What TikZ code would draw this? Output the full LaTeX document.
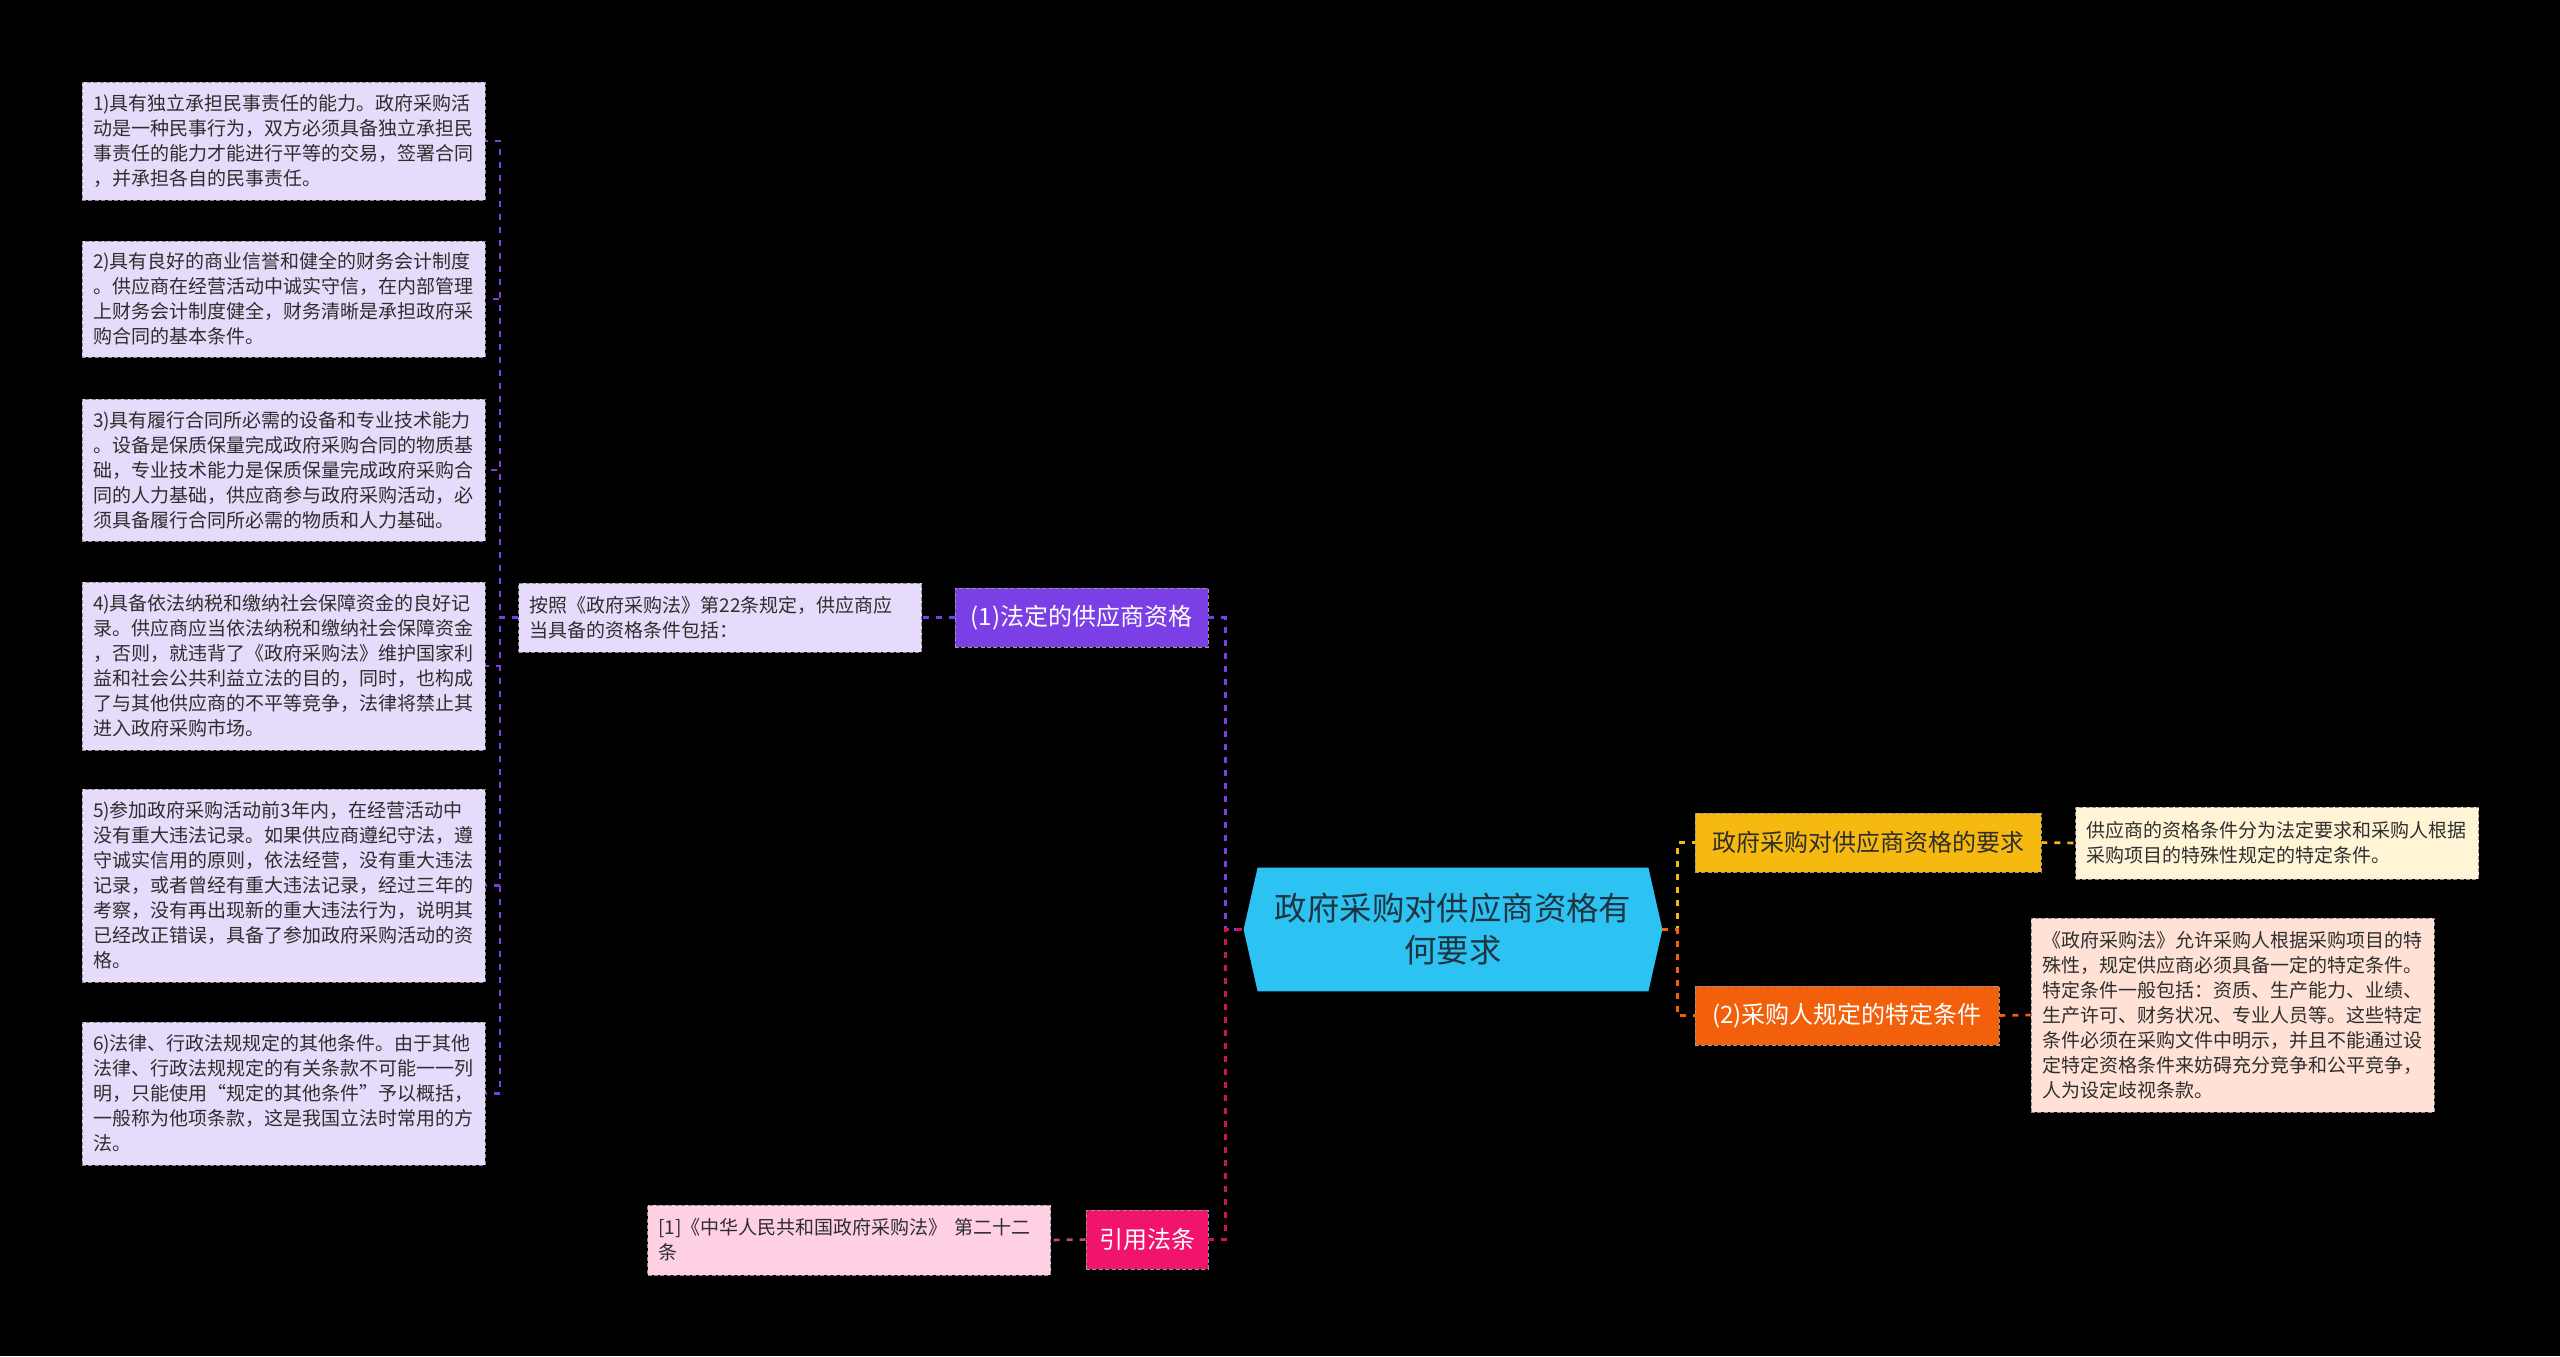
\documentclass[tikz,border=0pt]{standalone}
\usepackage{fontspec}
\setmainfont{Noto Sans CJK SC}
\pgfdeclarelayer{background}
\pgfsetlayers{background,main}

\definecolor{bgblack}{HTML}{000000}
\definecolor{hubblue}{HTML}{2CC3F2}
\definecolor{hubtext}{HTML}{1F3340}
\definecolor{violet}{HTML}{7B3FE6}
\definecolor{lavender}{HTML}{E6DBFA}
\definecolor{gold}{HTML}{F5B90F}
\definecolor{cream}{HTML}{FFF5D6}
\definecolor{tangerine}{HTML}{F2600C}
\definecolor{peach}{HTML}{FFE2D5}
\definecolor{rosered}{HTML}{F0146D}
\definecolor{blush}{HTML}{FFD0E4}
\definecolor{citeline}{HTML}{B5506F}
\definecolor{leaftext}{HTML}{2E2E2E}

\newcommand{\leaffont}{\fontsize{9.5}{12.5}\selectfont}
\newcommand{\branchfont}{\fontsize{12}{15}\selectfont}
\newcommand{\hubfont}{\fontsize{16.2}{21}\selectfont}

\begin{document}
\begin{tikzpicture}[
  x=0.5pt, y=-0.5pt,
  leaf/.style={draw=black!45, dash pattern=on 2pt off 1.2pt, line width=0.5pt,
               text=leaftext, font=\leaffont, align=left, text width=190.5pt,
               inner xsep=5.5pt, inner ysep=3pt},
  branch/.style={draw=black!40, dash pattern=on 2pt off 1.2pt, line width=0.4pt,
                 font=\branchfont, align=center, minimum height=29.5pt, inner sep=2pt},
  hub/.style={font=\hubfont, text=hubtext, align=center,
              minimum width=209pt, minimum height=61.5pt, inner sep=0pt},
  link/.style={dash pattern=on 3pt off 3.5pt, line width=1.3pt}
]
\begin{pgfonlayer}{background}
\fill[bgblack] (0,0) rectangle (2560,1356);
\end{pgfonlayer}
\useasboundingbox (0,0) rectangle (2560,1356);

% Nodes
\node[hub] (hub) at (1453,929.5) {政府采购对供应商资格有\\何要求};
\begin{pgfonlayer}{background}
\fill[hubblue] (hub.west) -- ([xshift=7pt]hub.north west) -- ([xshift=-7pt]hub.north east)
  -- (hub.east) -- ([xshift=-7pt]hub.south east) -- ([xshift=7pt]hub.south west) -- cycle;
\end{pgfonlayer}

\node[branch, fill=violet, text=white, minimum width=126.5pt] (legal) at (1081.5,617.5) {(1)法定的供应商资格};
\node[leaf, fill=lavender, minimum height=34.5pt] (intro) at (720,617.5)
  {按照《政府采购法》第22条规定，供应商应\\当具备的资格条件包括：};

\node[leaf, fill=lavender, minimum height=59pt] (q1) at (283.5,141)
  {1)具有独立承担民事责任的能力。政府采购活\\动是一种民事行为，双方必须具备独立承担民\\事责任的能力才能进行平等的交易，签署合同\\，并承担各自的民事责任。};
\node[leaf, fill=lavender, minimum height=58pt] (q2) at (283.5,299)
  {2)具有良好的商业信誉和健全的财务会计制度\\。供应商在经营活动中诚实守信，在内部管理\\上财务会计制度健全，财务清晰是承担政府采\\购合同的基本条件。};
\node[leaf, fill=lavender, minimum height=71pt] (q3) at (283.5,470)
  {3)具有履行合同所必需的设备和专业技术能力\\。设备是保质保量完成政府采购合同的物质基\\础，专业技术能力是保质保量完成政府采购合\\同的人力基础，供应商参与政府采购活动，必\\须具备履行合同所必需的物质和人力基础。};
\node[leaf, fill=lavender, minimum height=84pt] (q4) at (283.5,666)
  {4)具备依法纳税和缴纳社会保障资金的良好记\\录。供应商应当依法纳税和缴纳社会保障资金\\，否则，就违背了《政府采购法》维护国家利\\益和社会公共利益立法的目的，同时，也构成\\了与其他供应商的不平等竞争，法律将禁止其\\进入政府采购市场。};
\node[leaf, fill=lavender, minimum height=96.5pt] (q5) at (283.5,885.5)
  {5)参加政府采购活动前3年内，在经营活动中\\没有重大违法记录。如果供应商遵纪守法，遵\\守诚实信用的原则，依法经营，没有重大违法\\记录，或者曾经有重大违法记录，经过三年的\\考察，没有再出现新的重大违法行为，说明其\\已经改正错误，具备了参加政府采购活动的资\\格。};
\node[leaf, fill=lavender, minimum height=71.5pt] (q6) at (283.5,1093.5)
  {6)法律、行政法规规定的其他条件。由于其他\\法律、行政法规规定的有关条款不可能一一列\\明，只能使用“规定的其他条件”予以概括，\\一般称为他项条款，这是我国立法时常用的方\\法。};

\node[branch, fill=gold, text=leaftext, minimum width=173pt] (demand) at (1868,842.5) {政府采购对供应商资格的要求};
\node[leaf, fill=cream, minimum height=36pt] (demandnote) at (2277,843)
  {供应商的资格条件分为法定要求和采购人根据\\采购项目的特殊性规定的特定条件。};

\node[branch, fill=tangerine, text=white, minimum width=152pt] (special) at (1847,1015.5) {(2)采购人规定的特定条件};
\node[leaf, fill=peach, minimum height=97pt] (specialnote) at (2232.5,1015)
  {《政府采购法》允许采购人根据采购项目的特\\殊性，规定供应商必须具备一定的特定条件。\\特定条件一般包括：资质、生产能力、业绩、\\生产许可、财务状况、专业人员等。这些特定\\条件必须在采购文件中明示，并且不能通过设\\定特定资格条件来妨碍充分竞争和公平竞争，\\人为设定歧视条款。};

\node[branch, fill=rosered, text=white, minimum width=61pt] (cite) at (1147,1239.5) {引用法条};
\node[leaf, fill=blush, minimum height=35pt] (citenote) at (849,1240)
  {[1]《中华人民共和国政府采购法》 第二十二\\条};

% Edges
\draw[link, violet] (legal.east) -- ++(17,0) |- (hub.west);
\draw[link, rosered!85!black] (cite.east) -- ++(17,0) |- (hub.west);
\draw[link, gold] (hub.east) -- ++(15,0) |- (demand.west);
\draw[link, tangerine] (hub.east) -- ++(15,0) |- (special.west);
\draw[link, gold] (demand.east) -- (demandnote.west);
\draw[link, tangerine] (special.east) -- (specialnote.west);
\draw[link, violet] (legal.west) -- (intro.east);
\draw[link, citeline] (cite.west) -- (citenote.west -| citenote.east);
\foreach \q in {q1,q2,q3,q4,q5,q6}
  \draw[link, violet] (intro.west) -- ++(-18,0) |- (\q.east);
\end{tikzpicture}
\end{document}
